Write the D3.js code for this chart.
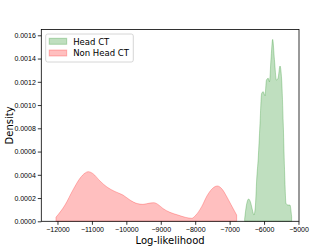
<!DOCTYPE html>
<html>
<head>
<meta charset="utf-8">
<script src="https://cdn.jsdelivr.net/npm/d3@7"></script>
<style>
  body { margin: 0; background: #fff; }
  svg { font-family: "DejaVu Sans", sans-serif; }
  .axis path, .axis line { stroke: #000; stroke-width: 0.8; }
  .axis text { font-size: 7px; fill: #000; }
</style>
</head>
<body>
<div id="chartDiv"></div>
<script>
// log-likelihood density curves
const seriesNames = ["Head CT", "Non Head CT"];

const headX = [-6564, -6511, -6447, -6395, -6337, -6294, -6250, -6215, -6169, -6120,
  -6070, -6023, -5974, -5931, -5878, -5843, -5800, -5750, -5698, -5640,
  -5595, -5537, -5488, -5441, -5400, -5363, -5306, -5249, -5199];
const headY = [0.00002, 0.00014, 0.000192, 0.000166, 0.000097, 0.000054, 0.00014, 0.000355, 0.000545, 0.000828,
  0.0011, 0.001115, 0.00108, 0.001215, 0.00123, 0.0012, 0.00139, 0.001565, 0.00139, 0.001215,
  0.00123, 0.001336, 0.001215, 0.000828, 0.000398, 0.000155, 0.00014, 0.00014, 0.00004];

const nonHeadX = [-12044, -11782, -11550, -11347, -11200, -11106, -10969, -10766, -10563, -10330,
  -10098, -9895, -9691, -9517, -9314, -9198, -9081, -8936, -8733, -8501,
  -8269, -8103, -7978, -7812, -7659, -7513, -7359, -7222, -7078, -6962, -6796];
const nonHeadY = [0.000035, 0.00014, 0.00027, 0.00037, 0.000415, 0.000427, 0.00041, 0.000347, 0.000295, 0.000256,
  0.000226, 0.000183, 0.000153, 0.000146, 0.000157, 0.00016, 0.000145, 0.00011, 0.000077, 0.000054,
  0.000033, 0.000026, 0.000054, 0.000126, 0.000218, 0.000278, 0.000304, 0.000278, 0.000209, 0.000145, 0.000054];

const xTicks = [-12000, -11000, -10000, -9000, -8000, -7000, -6000, -5000];
const yTicks = [0, 0.0002, 0.0004, 0.0006, 0.0008, 0.0010, 0.0012, 0.0014, 0.0016];

const width = 332, height = 249;
const margin = {top: 29.5, right: 33, bottom: 27.7, left: 41.3};

const svg = d3.select("#chartDiv").append("svg")
    .attr("width", width)
    .attr("height", height);

const x = d3.scaleLinear()
    .domain([-12470, -4985])
    .range([margin.left, width - margin.right]);

const y = d3.scaleLinear()
    .domain([0, 0.00165])
    .range([height - margin.bottom, margin.top]);

const colors = {"Head CT": "green", "Non Head CT": "red"};

const area = d3.area()
    .x(d => x(d[0]))
    .y0(y(0))
    .y1(d => y(d[1]))
    .curve(d3.curveMonotoneX);

const curves = [
    {key: "Non Head CT", pts: d3.zip(nonHeadX, nonHeadY)},
    {key: "Head CT", pts: d3.zip(headX, headY)}
];

svg.selectAll("path.kde")
    .data(curves)
    .enter()
    .append("path")
    .attr("class", "kde")
    .attr("d", d => area(d.pts))
    .attr("fill", d => colors[d.key])
    .attr("fill-opacity", 0.25)
    .attr("stroke", d => colors[d.key])
    .attr("stroke-opacity", 0.25)
    .attr("stroke-width", 1);

// axes
svg.append("g")
    .attr("class", "axis")
    .attr("transform", `translate(0, ${height - margin.bottom})`)
    .call(d3.axisBottom(x).tickValues(xTicks).tickSize(3.5).tickPadding(2.5)
        .tickFormat(d3.format("d")))
    .select(".domain").remove();

svg.append("g")
    .attr("class", "axis")
    .attr("transform", `translate(${margin.left}, 0)`)
    .call(d3.axisLeft(y).tickValues(yTicks).tickSize(3.5).tickPadding(2)
        .tickFormat(d3.format(".4f")))
    .select(".domain").remove();

// frame
svg.append("rect")
    .attr("x", margin.left)
    .attr("y", margin.top)
    .attr("width", width - margin.right - margin.left)
    .attr("height", height - margin.bottom - margin.top)
    .attr("fill", "none")
    .attr("stroke", "#000")
    .attr("stroke-width", 0.8);

// axis labels
svg.append("text")
    .attr("x", (margin.left + width - margin.right) / 2)
    .attr("y", 244)
    .attr("text-anchor", "middle")
    .style("font-size", "10px")
    .text("Log-likelihood");

svg.append("text")
    .attr("transform", `translate(12.5, ${(margin.top + height - margin.bottom) / 2}) rotate(-90)`)
    .attr("text-anchor", "middle")
    .style("font-size", "10px")
    .text("Density");

// legend
const legend = svg.append("g").attr("transform", "translate(45.7, 34)");
legend.append("rect")
    .attr("width", 87.6)
    .attr("height", 28)
    .attr("rx", 2)
    .attr("fill", "#fff")
    .attr("fill-opacity", 0.8)
    .attr("stroke", "#ccc")
    .attr("stroke-width", 0.8);

const items = legend.selectAll("g.item")
    .data(seriesNames)
    .enter()
    .append("g")
    .attr("class", "item")
    .attr("transform", (d, i) => `translate(3.5, ${4.3 + i * 11.7})`);

items.append("rect")
    .attr("width", 17.5)
    .attr("height", 6)
    .attr("fill", d => colors[d])
    .attr("fill-opacity", 0.25)
    .attr("stroke", d => colors[d])
    .attr("stroke-opacity", 0.25)
    .attr("stroke-width", 1);

items.append("text")
    .attr("x", 24)
    .attr("y", 6.2)
    .style("font-size", "8.5px")
    .text(d => d);
</script>
</body>
</html>
